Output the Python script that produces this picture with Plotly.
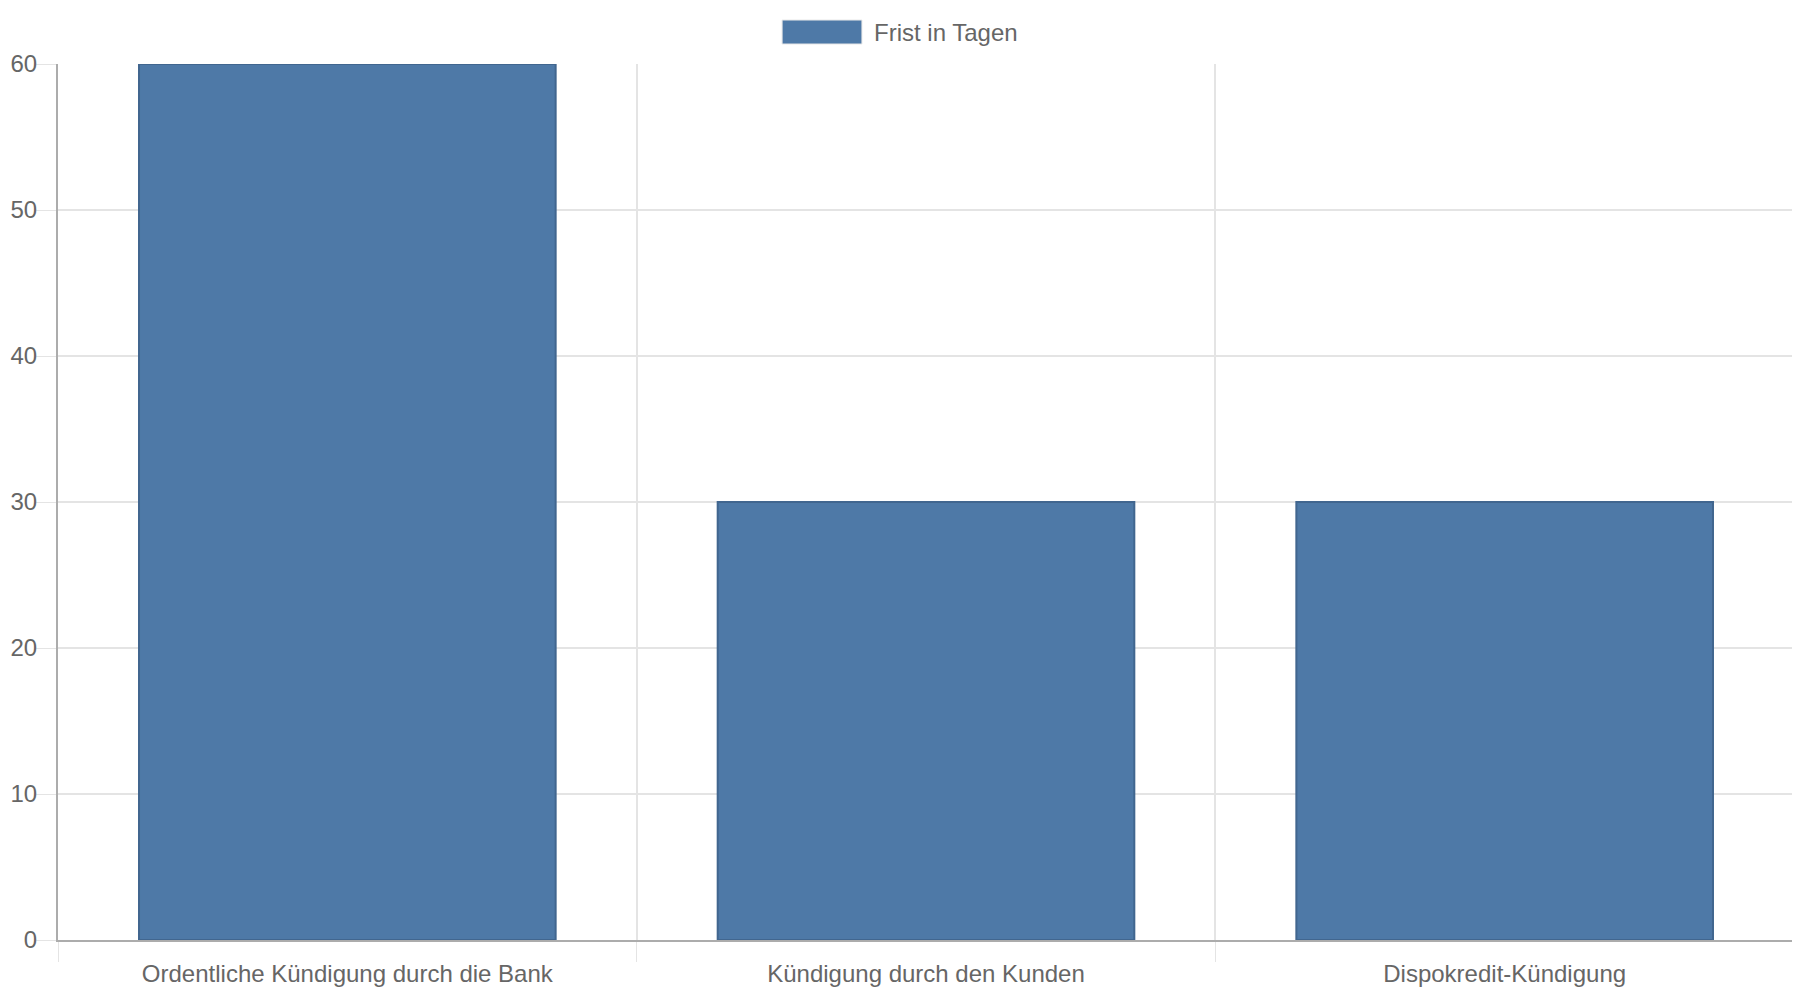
import plotly.graph_objects as go

categories = ["Ordentliche Kündigung durch die Bank", "Kündigung durch den Kunden", "Dispokredit-Kündigung"]
frist_tage = [60, 30, 30]
series_name = "Frist in Tagen"
y_ticks = [0, 10, 20, 30, 40, 50, 60]

bar_fill = "#4e79a7"
bar_edge = "#41668f"
grid = "#e4e4e4"
axis_col = "#acacac"
txt = "#666666"

xs = list(range(len(categories)))

fig = go.Figure()
fig.add_trace(go.Bar(
    x=xs, y=frist_tage, name=series_name, width=0.72,
    marker=dict(color=bar_fill, line=dict(color=bar_edge, width=2)),
    showlegend=False,
))

# chart.js-like legend: wide colour box + label, centred on the canvas
fig.add_shape(type="rect", xref="paper", yref="paper",
              x0=0.4171, x1=0.4631, y0=1.0228, y1=1.0502,
              fillcolor=bar_fill, line=dict(color="#e8e8e8", width=1))
fig.add_annotation(text=series_name, xref="paper", yref="paper",
                   x=0.4688, y=1.0365, xanchor="left", yanchor="middle",
                   showarrow=False, font=dict(size=24, color=txt))

fig.update_xaxes(
    range=[-0.5, len(categories) - 0.5],
    tickmode="array", tickvals=xs, ticktext=categories,
    showgrid=False, ticks="outside", ticklen=11, tickcolor="rgba(0,0,0,0)",
    showline=True, linecolor=axis_col, linewidth=2,
    zeroline=False, automargin=False,
    minor=dict(tickmode="array", tickvals=[i - 0.5 for i in range(len(categories) + 1)],
               showgrid=True, gridcolor=grid, gridwidth=2,
               ticks="outside", ticklen=20, tickcolor=grid),
    tickfont=dict(size=24, color=txt),
)
fig.update_yaxes(
    range=[0, 60], tickvals=y_ticks,
    showgrid=True, gridcolor=grid, gridwidth=2,
    ticks="outside", ticklen=20, tickcolor=grid,
    showline=True, linecolor=axis_col, linewidth=2,
    zeroline=False, automargin=False, ticklabelstandoff=-6,
    tickfont=dict(size=24, color=txt),
)

# page body adds 8px offset, so the figure is 8px smaller than the window
fig.update_layout(
    width=1792, height=992,
    margin=dict(l=50, r=6, t=56, b=60),
    plot_bgcolor="white", paper_bgcolor="white",
    font=dict(family="Liberation Sans, Arial, sans-serif", color=txt),
)

fig.write_html("out.html")
